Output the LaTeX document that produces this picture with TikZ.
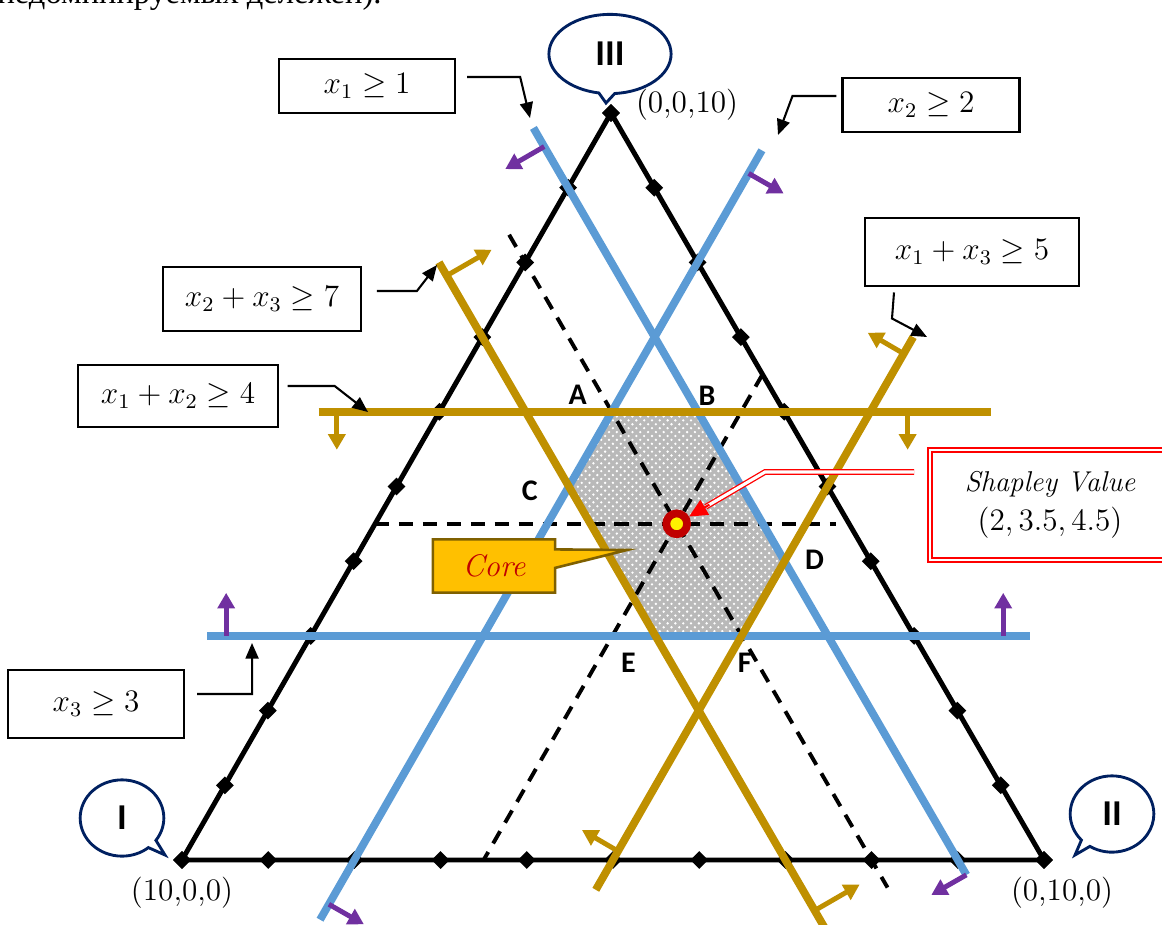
\documentclass[tikz,border=0pt]{standalone}
\usepackage{amsmath,amssymb}
\usepackage{fontspec}
\usetikzlibrary{calc}
\usetikzlibrary{arrows.meta}
\usetikzlibrary{shapes.geometric, shapes.callouts, patterns}

\newfontfamily\rufont{Liberation Serif}
\newfontfamily\calibri{Carlito}

\definecolor{lineblue}{HTML}{5B9BD5}
\definecolor{linegold}{HTML}{BF9000}
\definecolor{normpurple}{HTML}{7030A0}
\definecolor{bubblenavy}{HTML}{002060}
\definecolor{coreorange}{HTML}{FFC000}
\definecolor{coreedge}{HTML}{7F6000}
\definecolor{shapleyred}{HTML}{C00000}

\begin{document}
\begin{tikzpicture}[x=0.0135cm, y=-0.0135cm,
    every node/.style={font=\fontsize{12}{14}\selectfont},
    edgeline/.style={line width=1.9pt, line join=round},
    blueline/.style={line width=3pt, lineblue},
    goldline/.style={line width=3pt, linegold},
    dashline/.style={line width=1.5pt, dash pattern=on 5.4pt off 3.8pt},
    bluenorm/.style={line width=1.9pt, normpurple, -{Triangle[length=6pt, width=6.5pt]}},
    goldnorm/.style={line width=1.9pt, linegold, -{Triangle[length=6pt, width=6.5pt]}},
    dot/.style={diamond, fill=black, inner sep=0pt, minimum size=7pt},
    consbox/.style={draw, line width=0.8pt, inner sep=0pt},
    callarrow/.style={line width=0.8pt, -{Triangle[length=6pt, width=5pt]}},
    bubble/.style={ellipse callout, draw=bubblenavy, line width=1.1pt, fill=white,
        inner sep=0pt, font=\calibri\bfseries\fontsize{14}{16}\selectfont},
    vlabel/.style={font=\calibri\bfseries\fontsize{11.5}{13}\selectfont},
]
\useasboundingbox (0,0) rectangle (1162,924);
\clip (0,0) rectangle (1162,924);

% end of the text line above the figure
\node[anchor=base west, inner sep=0pt, font=\rufont\fontsize{12.5}{14}\selectfont]
    (toptext) at (-3,4) {недоминируемых дележей).};

% --- SIMPLEX ---
\coordinate (I)   at (182,860);
\coordinate (II)  at (1044,860);
\coordinate (III) at (611,113);

% core vertices
\coordinate (A) at (barycentric cs:I=2,II=2,III=6);
\coordinate (B) at (barycentric cs:I=1,II=3,III=6);
\coordinate (C) at (barycentric cs:I=3,II=2,III=5);
\coordinate (D) at (barycentric cs:I=1,II=5,III=4);
\coordinate (E) at (barycentric cs:I=3,II=4,III=3);
\coordinate (F) at (barycentric cs:I=2,II=5,III=3);

% core
\fill[gray!55] (A)--(B)--(D)--(F)--(E)--(C)--cycle;
\fill[pattern=crosshatch dots, pattern color=white] (A)--(B)--(D)--(F)--(E)--(C)--cycle;
\draw[bubblenavy, line width=0.4pt] (A)--(B)--(D)--(F)--(E)--(C)--cycle;

% lines through the Shapley value
\draw[dashline] (barycentric cs:I=5.5,II=0,III=4.5) -- (barycentric cs:I=0.15,II=5.35,III=4.5);
\draw[dashline] (barycentric cs:I=2,II=-0.37,III=8.37) -- (barycentric cs:I=2,II=8.37,III=-0.37);
\draw[dashline] (barycentric cs:I=0,II=3.5,III=6.5) -- (barycentric cs:I=6.5,II=3.5,III=0);

% triangle
\draw[edgeline] (I) -- (II) -- (III) -- cycle;
\foreach \k in {0,...,10} {
    \pgfmathsetmacro\tk{\k/10}
    \node[dot] at ($(I)!\tk!(II)$) {};
    \node[dot] at ($(II)!\tk!(III)$) {};
    \node[dot] at ($(III)!\tk!(I)$) {};
}

% --- CONSTRAINT LINES ---
\coordinate (p1a) at (barycentric cs:I=1,II=-0.8,III=9.8);   % x1 >= 1
\coordinate (p1b) at (barycentric cs:I=1,II=9.2,III=-0.2);
\coordinate (p2a) at (barycentric cs:I=-1.5,II=2,III=9.5);   % x2 >= 2
\coordinate (p2b) at (barycentric cs:I=8.8,II=2,III=-0.8);
\coordinate (p3a) at (barycentric cs:I=8.2,II=-1.2,III=3);   % x3 >= 3
\coordinate (p3b) at (barycentric cs:I=-1.35,II=8.35,III=3);
\coordinate (q3a) at (barycentric cs:I=5.4,II=-1.4,III=6);   % x1+x2 >= 4
\coordinate (q3b) at (barycentric cs:I=-2.4,II=6.4,III=6);
\coordinate (q1a) at (barycentric cs:I=3,II=-1,III=8);       % x2+x3 >= 7
\coordinate (q1b) at (barycentric cs:I=3,II=7.9,III=-0.9);
\coordinate (q2a) at (barycentric cs:I=-2,II=5,III=7);       % x1+x3 >= 5
\coordinate (q2b) at (barycentric cs:I=5.4,II=5,III=-0.4);

\draw[blueline] (p1a) -- (p1b);
\draw[blueline] (p2a) -- (p2b);
\draw[blueline] (p3a) -- (p3b);
\draw[goldline] (q3a) -- (q3b);
\draw[goldline] (q1a) -- (q1b);
\draw[goldline] (q2a) -- (q2b);

% feasible sides
\draw[bluenorm] ($(p1a)!0.025!(p1b)$) -- ++(-39,22.5);
\draw[bluenorm] (p1b) -- ++(-35,20);
\draw[bluenorm] ($(p2a)!0.03!(p2b)$) -- ++(35,20);
\draw[bluenorm] ($(p2a)!0.98!(p2b)$) -- ++(35,20);
\draw[bluenorm] ($(p3a)!0.023!(p3b)$) -- ++(0,-43);
\draw[bluenorm] ($(p3a)!0.967!(p3b)$) -- ++(0,-43);
\draw[goldnorm] ($(q3a)!0.027!(q3b)$) -- ++(0,38);
\draw[goldnorm] ($(q3a)!0.876!(q3b)$) -- ++(0,38);
\draw[goldnorm] ($(q1a)!0.02!(q1b)$) -- ++(45,-26);
\draw[goldnorm] ($(q1a)!0.975!(q1b)$) -- ++(45,-26);
\draw[goldnorm] ($(q2a)!0.03!(q2b)$) -- ++(-36,-21);
\draw[goldnorm] ($(q2a)!0.93!(q2b)$) -- ++(-36,-21);

% Shapley value
\node[circle, fill=yellow, draw=shapleyred, line width=3pt, minimum size=8pt, inner sep=0pt]
    (shv) at (barycentric cs:I=2,II=3.5,III=4.5) {};

% --- LABELS ---
\node[vlabel] (lA) at ($(A)+(-34,-17)$) {A};
\node[vlabel] (lB) at ($(B)+(9,-16)$) {B};
\node[vlabel] (lC) at ($(C)+(-39,4)$) {C};
\node[vlabel] (lD) at ($(D)+(30,-1)$) {D};
\node[vlabel] (lE) at ($(E)+(-27,27)$) {E};
\node[vlabel] (lF) at ($(F)+(3,27)$) {F};

\node (vIII) at ($(III)+(76,-8)$) {(0,0,10)};
\node (vI)   at ($(I)+(0,33)$) {(10,0,0)};
\node (vII)  at ($(II)+(18,33)$) {(0,10,0)};

\node[bubble, minimum width=1.65cm, minimum height=1.07cm,
    callout absolute pointer={(606,103)}] (bubIII) at (610,54) {III};
\node[bubble, minimum width=1.13cm, minimum height=1.03cm,
    callout absolute pointer={(165,855)}] (bubI) at (122,818) {I};
\node[bubble, minimum width=1.13cm, minimum height=1.03cm,
    callout absolute pointer={(1075,855)}] (bubII) at (1112,814) {II};

% --- CONSTRAINT BOXES ---
\node[consbox, minimum width=2.38cm, minimum height=0.74cm] (b1) at (367,86) {$x_1 \geq 1$};
\node[consbox, minimum width=2.39cm, minimum height=0.74cm] (b2) at (931,105) {$x_2 \geq 2$};
\node[consbox, minimum width=2.88cm, minimum height=0.93cm] (b3) at (972,252) {$x_1 + x_3 \geq 5$};
\node[consbox, minimum width=2.67cm, minimum height=0.86cm] (b4) at (262,299) {$x_2 + x_3 \geq 7$};
\node[consbox, minimum width=2.69cm, minimum height=0.84cm] (b5) at (178,396) {$x_1 + x_2 \geq 4$};
\node[consbox, minimum width=2.38cm, minimum height=0.92cm] (b6) at (96,704) {$x_3 \geq 3$};

\coordinate (t1) at (530,118);
\coordinate (t2) at (778,135);
\coordinate (t3) at (927,337);
\coordinate (t4) at (437,265);
\coordinate (t5) at (368,412);
\coordinate (t6) at (252,643);

\draw[callarrow] (b1.east) ++(11,-9) -- ++(53,0) -- (t1);
\draw[callarrow] (b2.west) ++(-5,-9) -- ++(-44,0) -- (t2);
\draw[callarrow] (b3.south) ++(-78,5) -- ++(-2,26) -- (t3);
\draw[callarrow] (b4.east) ++(15,-8) -- ++(40,0) -- (t4);
\draw[callarrow] (b5.east) ++(9,-10) -- ++(47,0) -- (t5);
\draw[callarrow] (b6.east) ++(12,-10) -- ++(55,0) -- (t6);

% Shapley value box
\node[draw=red, line width=0.7pt, double=white, double distance=0.8pt,
    minimum width=3.24cm, minimum height=1.49cm, align=center] (sv) at (1050,505)
    {{\itshape\fontsize{11}{13}\selectfont Shapley Value}\\[1pt] $(2, 3.5, 4.5)$};
\coordinate (bend) at (765,472);
\draw[red, line width=0.5pt, double=white, double distance=1.2pt]
    (sv.west) ++(-15,-33) -- (bend) -- ($(shv)!0.33!(bend)$);
\draw[red, line width=0.8pt, -{Triangle[length=7pt, width=6.5pt]}] ($(shv)!0.37!(bend)$) -- (shv);

% core callout
\node[rectangle callout, draw=coreedge, fill=coreorange, line width=1pt,
    minimum width=1.65cm, minimum height=0.72cm, callout absolute pointer={(627,550)},
    font=\itshape\fontsize{12}{14}\selectfont, text=shapleyred] (core) at (494,566) {Core};

\end{tikzpicture}
\end{document}
